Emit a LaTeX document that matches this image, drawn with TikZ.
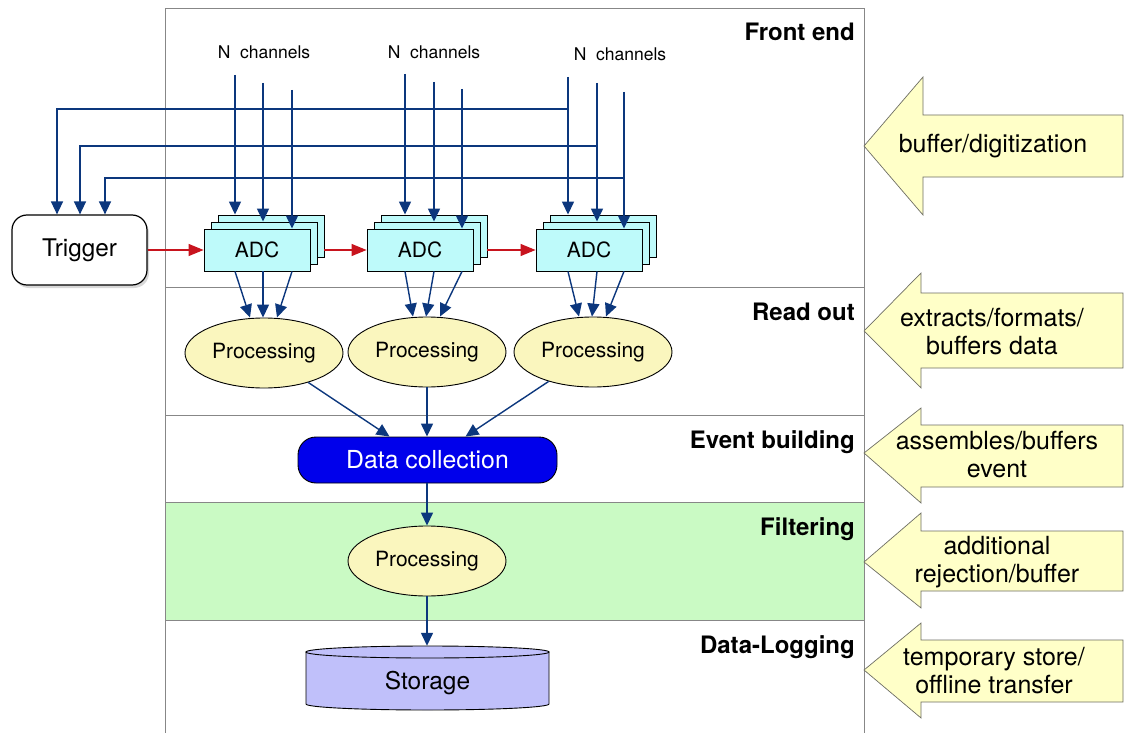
\documentclass[tikz,border=0pt]{standalone}
\usepackage{fontspec}
\setmainfont{TeX Gyre Heros}
\usetikzlibrary{arrows.meta,shadows,shapes.geometric,calc}

\definecolor{arrblue}{RGB}{12,55,125}
\definecolor{redarr}{RGB}{200,20,30}
\definecolor{adccyan}{RGB}{190,250,250}
\definecolor{procyellow}{RGB}{250,246,190}
\definecolor{dcblue}{RGB}{0,0,235}
\definecolor{storeviolet}{RGB}{192,192,250}
\definecolor{bandgreen}{RGB}{202,250,196}
\definecolor{framegray}{RGB}{135,135,135}
\definecolor{notefill}{RGB}{255,255,200}
\definecolor{noteedge}{RGB}{110,110,100}

\tikzset{
  arr/.style={draw=arrblue, line width=1.4pt, -{Triangle[length=13pt,width=12pt]}},
  redarrow/.style={draw=redarr, line width=1.2pt, -{Triangle[length=15pt,width=12pt]}},
  adcbox/.style={draw, line width=0.9pt, fill=adccyan, minimum width=106pt, minimum height=42pt, inner sep=0pt, font=\fontsize{21}{24}\selectfont},
  procnode/.style={ellipse, draw, line width=0.9pt, fill=procyellow, minimum width=158pt, minimum height=70pt, inner sep=0pt, font=\fontsize{21}{25}\selectfont},
  titletext/.style={anchor=base east, inner sep=0pt, font=\fontsize{24}{28}\bfseries},
  chantext/.style={anchor=base, font=\fontsize{17.5}{20}\selectfont},
  notetext/.style={align=center, font=\fontsize{25}{28}\selectfont},
  noteshape/.style={fill=notefill, draw=noteedge, line width=0.7pt},
  sepline/.style={draw=framegray, line width=0.9pt}
}

\begin{document}
\begin{tikzpicture}[x=1pt,y=-1pt]
\useasboundingbox (0,0) rectangle (1130,733);
\fill[white] (0,0) rectangle (1130,733);

% band and frame
\fill[bandgreen] (165,502) rectangle (864,620);
\draw[sepline] (165,733) -- (165,8) -- (864,8) -- (864,733);
\draw[sepline] (165,287) -- (864,287);
\draw[sepline] (165,415) -- (864,415);
\draw[sepline] (165,502) -- (864,502);
\draw[sepline] (165,620) -- (864,620);

% titles
\node[titletext] (tfe) at (855,41) {Front end};
\node[titletext] (tro) at (855,320) {Read out};
\node[titletext] (teb) at (855,448) {Event building};
\node[titletext] (tfi) at (855,535) {Filtering};
\node[titletext] (tdl) at (855,653) {Data-Logging};

% channel labels
\node[chantext] (n1) at (264,59) {N~ channels};
\node[chantext] (n2) at (434,59) {N~ channels};
\node[chantext] (n3) at (620,61) {N~ channels};

% trigger
\node[draw, fill=white, rounded corners=15pt, line width=1.2pt, minimum width=135pt, minimum height=70pt,
      font=\fontsize{24.3}{28}\selectfont,
      drop shadow={opacity=0.3, shadow xshift=2pt, shadow yshift=-3pt}] (trig) at (79.5,250) {Trigger};

% ADC stacks
\node[adcbox] (a1b) at (271,236) {};
\node[adcbox] (a1m) at (264,243) {};
\node[adcbox] (a1f) at (257,250) {ADC};
\node[adcbox] (a2b) at (434,236) {};
\node[adcbox] (a2m) at (427,243) {};
\node[adcbox] (a2f) at (420,250) {ADC};
\node[adcbox] (a3b) at (603,236) {};
\node[adcbox] (a3m) at (596,243) {};
\node[adcbox] (a3f) at (589,250) {ADC};

% channel start points
\coordinate (c11) at (235,75);
\coordinate (c12) at (263,83);
\coordinate (c13) at (292,90);
\coordinate (c21) at (405,74);
\coordinate (c22) at (434,82);
\coordinate (c23) at (462,89);
\coordinate (c31) at (568,77);
\coordinate (c32) at (597,83);
\coordinate (c33) at (624,92);
\coordinate (j1) at (568,109);
\coordinate (j2) at (597,146);
\coordinate (j3) at (624,178);

% trigger lines
\draw[arr] (j1) -| ([xshift=-22.5pt]trig.north);
\draw[arr] (j2) -| ([xshift=0.5pt]trig.north);
\draw[arr] (j3) -| ([xshift=25.5pt]trig.north);

% channel lines
\draw[arr] (c11) -- (c11 |- a1b.north);
\draw[arr] (c12) -- (c12 |- a1m.north);
\draw[arr] (c13) -- (c13 |- a1f.north);
\draw[arr] (c21) -- (c21 |- a2b.north);
\draw[arr] (c22) -- (c22 |- a2m.north);
\draw[arr] (c23) -- (c23 |- a2f.north);
\draw[arr] (c31) -- (c31 |- a3b.north);
\draw[arr] (c32) -- (c32 |- a3m.north);
\draw[arr] (c33) -- (c33 |- a3f.north);

% red trigger chain
\draw[redarrow] (trig.east) -- (a1f.west);
\draw[redarrow] (a1b.east |- a1f.west) -- (a2f.west);
\draw[redarrow] (a2b.east |- a2f.west) -- (a3f.west);

% processing
\node[procnode] (p1) at (264,353) {Processing};
\node[procnode] (p2) at (427,352) {Processing};
\node[procnode] (p3) at (593,352) {Processing};

\draw[arr] (c11 |- a1f.south) -- ([xshift=-14pt]p1.north);
\draw[arr] (c12 |- a1f.south) -- ([xshift=-1pt]p1.north);
\draw[arr] (c13 |- a1f.south) -- ([xshift=13pt]p1.north);
\draw[arr] (c21 |- a2f.south) -- ([xshift=-14pt]p2.north);
\draw[arr] (c22 |- a2f.south) -- ([xshift=-1pt]p2.north);
\draw[arr] (c23 |- a2f.south) -- ([xshift=13pt]p2.north);
\draw[arr] (c31 |- a3f.south) -- ([xshift=-14pt]p3.north);
\draw[arr] (c32 |- a3f.south) -- ([xshift=-1pt]p3.north);
\draw[arr] (c33 |- a3f.south) -- ([xshift=13pt]p3.north);

% data collection
\node[draw, line width=0.9pt, fill=dcblue, text=white, rounded corners=18pt, minimum width=259pt, minimum height=46pt,
      font=\fontsize{24.8}{28}\selectfont] (dc) at (427.5,460) {Data collection};
\draw[arr] (p1) -- ([xshift=-38pt]dc.north);
\draw[arr] (p2) -- (p2 |- dc.north);
\draw[arr] (p3) -- ([xshift=38pt]dc.north);

% filtering
\node[procnode] (pf) at (427,561) {Processing};
\draw[arr] (dc.south -| pf.north) -- (pf.north);

% storage cylinder
\filldraw[fill=storeviolet, draw=black, line width=0.9pt] (306,652) -- (306,704)
  arc[start angle=180, end angle=360, x radius=121.5pt, y radius=6pt] -- (549,652) -- cycle;
\filldraw[fill=storeviolet, draw=black, line width=0.9pt] (427.5,652) ellipse [x radius=121.5pt, y radius=6pt];
\node[minimum width=243pt, minimum height=64pt, inner sep=0pt] (store) at (427.5,678) {};
\node[font=\fontsize{24.5}{28}\selectfont] (storet) at (427.5,683) {Storage};
\draw[arr] (pf.south) -- (pf.south |- store.north);

% block arrows (notes)
\draw[noteshape] (864,146) -- (923,77) -- (923,115) -- (1123,115) -- (1123,177) -- (923,177) -- (923,215) -- cycle;
\node[notetext] (b1) at (993,146) {buffer/digitization};

\draw[noteshape] (864,331) -- (921,273) -- (921,293) -- (1123,293) -- (1123,368) -- (921,368) -- (921,388) -- cycle;
\node[notetext] (b2) at (992,332) {extracts/formats/\\buffers data};

\draw[noteshape] (864,453) -- (921,408) -- (921,425) -- (1123,425) -- (1123,487) -- (921,487) -- (921,503) -- cycle;
\node[notetext] (b3) at (997,455) {assembles/buffers\\event};

\draw[noteshape] (864,562) -- (921,513) -- (921,531) -- (1123,531) -- (1123,591) -- (921,591) -- (921,608) -- cycle;
\node[notetext] (b4) at (997,562) {additional\\rejection/buffer};

\draw[noteshape] (864,670) -- (921,623) -- (921,640) -- (1123,640) -- (1123,702) -- (921,702) -- (921,718) -- cycle;
\node[notetext] (b5) at (994,671) {temporary store/\\offline transfer};
\end{tikzpicture}
\end{document}
